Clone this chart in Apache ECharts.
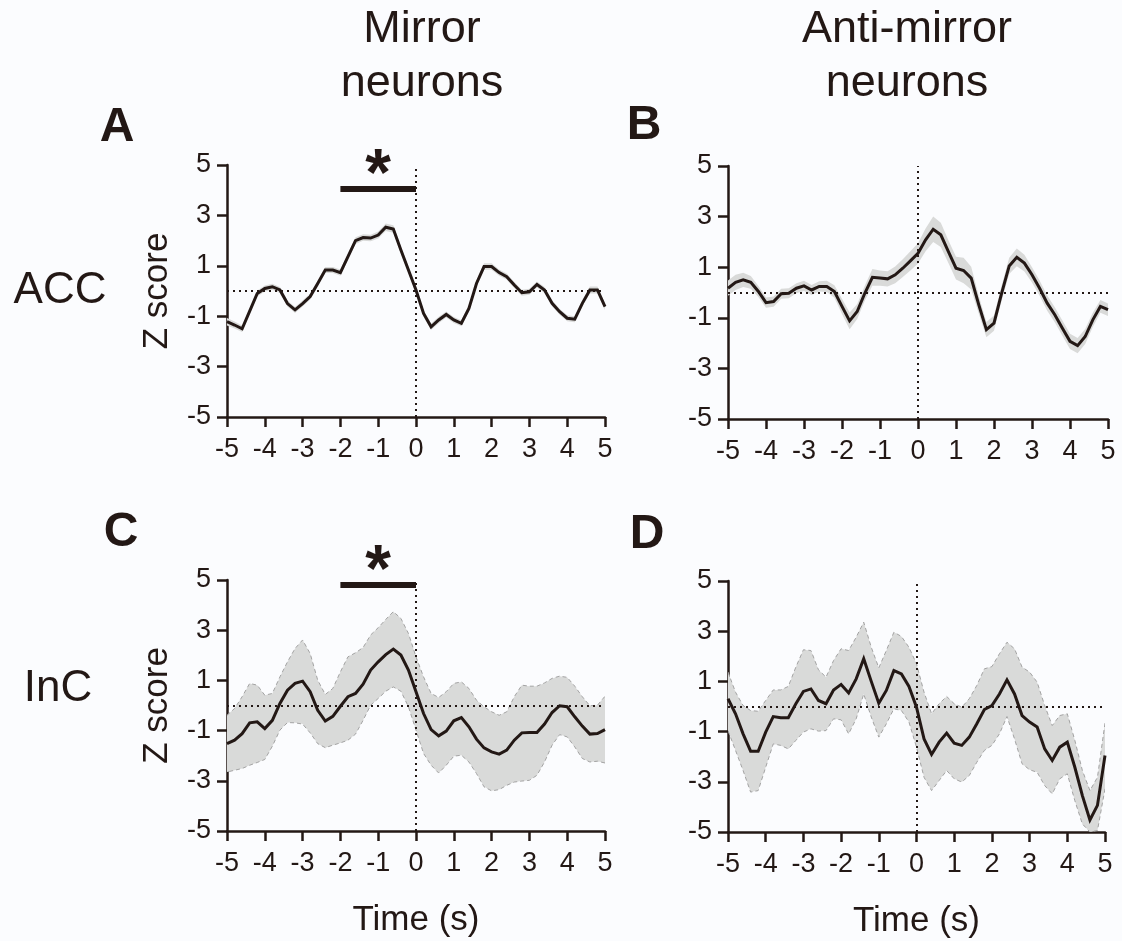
<!DOCTYPE html>
<html><head><meta charset="utf-8">
<script src="https://cdn.jsdelivr.net/npm/echarts@6/dist/echarts.min.js"></script>
<style>html,body{margin:0;padding:0;background:#fbfcfe}#c{width:1122px;height:941px}</style>
</head><body><div id="c"></div>
<script>
// ---- data ----
const time = [-5,-4.8,-4.6,-4.4,-4.2,-4,-3.8,-3.6,-3.4,-3.2,-3,-2.8,-2.6,-2.4,-2.2,-2,-1.8,-1.6,-1.4,-1.2,-1,-0.8,-0.6,-0.4,-0.2,0,0.2,0.4,0.6,0.8,1,1.2,1.4,1.6,1.8,2,2.2,2.4,2.6,2.8,3,3.2,3.4,3.6,3.8,4,4.2,4.4,4.6,4.8,5];
const xTicks = [-5,-4,-3,-2,-1,0,1,2,3,4,5];
const yTicks = [-5,-3,-1,1,3,5];

const meanA = [-1.22,-1.35,-1.5,-0.8,-0.1,0.1,0.17,0.04,-0.5,-0.75,-0.5,-0.22,0.3,0.83,0.83,0.73,1.36,2.0,2.12,2.1,2.22,2.53,2.46,1.63,0.83,0.04,-0.89,-1.42,-1.15,-0.93,-1.15,-1.28,-0.69,0.3,0.97,0.97,0.73,0.57,0.24,-0.07,-0.03,0.26,0.04,-0.49,-0.82,-1.08,-1.12,-0.49,0.04,0.04,-0.62];
const semA = [0.15,0.14,0.13,0.12,0.12,0.12,0.12,0.12,0.12,0.12,0.12,0.12,0.12,0.12,0.12,0.12,0.13,0.13,0.13,0.13,0.14,0.15,0.15,0.14,0.13,0.13,0.13,0.13,0.13,0.12,0.12,0.12,0.12,0.12,0.13,0.13,0.12,0.12,0.12,0.12,0.12,0.12,0.12,0.12,0.12,0.12,0.12,0.13,0.14,0.14,0.13];

const meanB = [0.17,0.4,0.5,0.4,0.04,-0.4,-0.36,-0.05,-0.03,0.17,0.26,0.1,0.24,0.24,0.04,-0.55,-1.12,-0.75,-0.03,0.6,0.57,0.54,0.7,0.96,1.25,1.55,2.08,2.5,2.28,1.62,0.96,0.87,0.57,-0.49,-1.47,-1.21,-0.03,1.05,1.39,1.16,0.7,0.17,-0.42,-0.88,-1.41,-1.93,-2.1,-1.74,-1.08,-0.55,-0.68];
const semB = [0.3,0.3,0.28,0.25,0.22,0.2,0.2,0.2,0.2,0.2,0.2,0.2,0.2,0.22,0.25,0.3,0.33,0.3,0.3,0.33,0.3,0.3,0.33,0.35,0.38,0.4,0.45,0.5,0.48,0.45,0.45,0.5,0.45,0.35,0.3,0.3,0.3,0.32,0.35,0.33,0.3,0.3,0.3,0.3,0.3,0.3,0.3,0.3,0.28,0.25,0.25];

const meanC = [-1.52,-1.38,-1.12,-0.69,-0.65,-0.92,-0.59,0.08,0.61,0.88,0.97,0.55,-0.19,-0.62,-0.43,-0.03,0.35,0.48,0.85,1.41,1.74,2.03,2.25,2.01,1.41,0.55,-0.32,-0.96,-1.21,-1.02,-0.61,-0.48,-0.85,-1.34,-1.69,-1.85,-1.94,-1.78,-1.38,-1.09,-1.08,-1.08,-0.74,-0.28,-0.01,-0.05,-0.45,-0.82,-1.14,-1.12,-0.96];
const upperC = [-0.39,-0.12,0.35,0.88,0.81,0.41,0.48,1.14,1.74,2.27,2.61,2.07,1.01,0.44,0.68,1.34,1.94,2.10,2.31,2.81,3.10,3.43,3.74,3.47,2.87,1.94,1.14,0.48,0.32,0.55,0.88,0.94,0.68,0.21,-0.05,-0.25,-0.39,-0.25,0.35,0.81,0.77,0.77,0.90,1.08,1.17,1.12,0.77,0.35,-0.01,0.01,0.37];
const lowerC = [-2.65,-2.58,-2.51,-2.38,-2.27,-2.15,-1.62,-0.98,-0.68,-0.69,-0.74,-1.09,-1.52,-1.68,-1.58,-1.49,-1.38,-1.14,-0.59,0.01,0.28,0.57,0.74,0.57,-0.05,-0.98,-1.91,-2.38,-2.69,-2.38,-2.02,-1.98,-2.25,-2.71,-3.24,-3.40,-3.35,-3.18,-3.05,-3.01,-2.98,-2.78,-2.25,-1.58,-1.16,-1.25,-1.65,-2.11,-2.25,-2.22,-2.29];

const meanD = [0.31,-0.29,-1.09,-1.78,-1.78,-1.02,-0.40,-0.45,-0.45,0.11,0.60,0.70,0.24,0.11,0.66,0.88,0.54,1.10,1.90,1.00,0.13,0.64,1.43,1.30,0.80,-0.03,-1.29,-1.91,-1.42,-1.06,-1.46,-1.55,-1.22,-0.69,-0.12,0.04,0.50,1.06,0.50,-0.36,-0.62,-0.82,-1.69,-2.15,-1.62,-1.42,-2.42,-3.55,-4.52,-3.94,-1.95];
const upperD = [1.37,0.57,0.04,-0.16,-0.19,0.24,0.66,0.66,0.80,1.57,2.26,2.23,1.46,1.17,1.83,2.30,2.23,2.76,3.36,2.36,1.54,2.23,2.96,2.79,2.36,1.70,0.57,-0.29,0.11,0.40,0.11,-0.03,0.31,0.84,1.50,1.59,2.10,2.56,2.30,1.57,1.37,0.97,0.04,-0.76,-0.36,-0.29,-1.35,-2.55,-3.35,-2.82,-0.66];
const lowerD = [-0.96,-1.75,-2.55,-3.41,-3.35,-2.42,-1.49,-1.55,-1.69,-1.35,-1.02,-0.89,-0.98,-0.96,-0.49,-0.53,-1.09,-0.49,0.50,-0.42,-1.22,-0.69,-0.09,-0.16,-0.62,-1.62,-2.82,-3.35,-2.95,-2.55,-2.88,-3.01,-2.75,-2.22,-1.75,-1.55,-1.09,-0.40,-1.29,-2.28,-2.52,-2.62,-3.15,-3.48,-2.88,-2.68,-3.75,-4.68,-5.0,-4.94,-3.28];

const sigSpan = [-2, 0];
const sigLevelA = 4.05;
const sigLevelC = 4.8;

const columnTitles = [['Mirror','neurons'],['Anti-mirror','neurons']];
const rowLabels = ['ACC','InC'];
const panelLetters = ['A','B','C','D'];
const yName = 'Z score';
const xName = 'Time (s)';

// ---- style ----
const INK = '#231815';
const FONT = "'Liberation Sans', Arial, Helvetica, sans-serif";
const BAND = '#d9dad9';
const EDGE = '#a3a3a3';

const lowerA = meanA.map((m,i)=>m - semA[i]);
const upperA = meanA.map((m,i)=>m + semA[i]);
const lowerB = meanB.map((m,i)=>m - semB[i]);
const upperB = meanB.map((m,i)=>m + semB[i]);

const panels = [
  {grid:{left:227, top:165, width:378, height:252}, mean:meanA, lower:lowerA, upper:upperA, edge:false, yName:yName, xName:''},
  {grid:{left:728, top:166, width:380, height:253}, mean:meanB, lower:lowerB, upper:upperB, edge:false, yName:'', xName:''},
  {grid:{left:227, top:580, width:378, height:251}, mean:meanC, lower:lowerC, upper:upperC, edge:true, yName:yName, xName:xName},
  {grid:{left:728, top:581, width:377, height:251}, mean:meanD, lower:lowerD, upper:upperD, edge:true, yName:'', xName:xName}
];

function pairs(xs, ys){ return xs.map((x,i)=>[x, ys[i]]); }

const grids=[], xAxes=[], yAxes=[], series=[];
panels.forEach((p,i)=>{
  grids.push(Object.assign({containLabel:false}, p.grid));
  xAxes.push({
    gridIndex:i, type:'value', min:xTicks[0], max:xTicks[xTicks.length-1], interval:1,
    axisLine:{show:true, onZero:false, lineStyle:{color:INK, width:2.5}},
    axisTick:{show:true, length:10, lineStyle:{color:INK, width:2.5}},
    axisLabel:{color:INK, fontSize:27, fontFamily:FONT, margin:19},
    splitLine:{show:false},
    name:p.xName, nameLocation:'middle', nameGap:72,
    nameTextStyle:{color:INK, fontSize:35, fontFamily:FONT}
  });
  yAxes.push({
    gridIndex:i, type:'value', min:yTicks[0], max:yTicks[yTicks.length-1], interval:2,
    axisLine:{show:true, onZero:false, lineStyle:{color:INK, width:2.5}},
    axisTick:{show:true, length:10, lineStyle:{color:INK, width:2.5}},
    axisLabel:{color:INK, fontSize:27, fontFamily:FONT, margin:16},
    splitLine:{show:false},
    name:p.yName, nameLocation:'middle', nameGap:52,
    nameTextStyle:{color:INK, fontSize:35, fontFamily:FONT}
  });
  // band: one polygon drawn through the axes' own scales
  const bandData = time.map((t,j)=>[t, p.lower[j], p.upper[j]]);
  series.push({type:'custom', xAxisIndex:i, yAxisIndex:i, data:bandData, silent:true, z:1, clip:true,
    encode:{x:0, y:[1,2]},
    renderItem:function(params, api){
      if (params.dataIndex !== 0) return null;
      const up = bandData.map(d=>api.coord([d[0], d[2]]));
      const lo = bandData.map(d=>api.coord([d[0], d[1]])).reverse();
      const children = [{type:'polygon', shape:{points:up.concat(lo)}, style:{fill:BAND, stroke:'none'}}];
      if (p.edge){
        children.push({type:'polyline', shape:{points:up}, style:{fill:'none', stroke:EDGE, lineWidth:1, lineDash:[4,3]}});
        children.push({type:'polyline', shape:{points:lo}, style:{fill:'none', stroke:EDGE, lineWidth:1, lineDash:[4,3]}});
      }
      return {type:'group', children:children};
    }});
  series.push({type:'line', xAxisIndex:i, yAxisIndex:i, data:pairs(time, p.mean),
    symbol:'none', silent:true, z:3,
    lineStyle:{color:INK, width:3, join:'miter'},
    markLine:{silent:true, symbol:'none', label:{show:false}, animation:false,
      lineStyle:{color:INK, width:2, type:[2,4]},
      data:[{yAxis:0},{xAxis:0}]}});
});

[[0, sigLevelA],[2, sigLevelC]].forEach(([gi, lvl])=>{
  series.push({type:'line', xAxisIndex:gi, yAxisIndex:gi, data:pairs(sigSpan, [lvl, lvl]),
    symbol:'none', silent:true, z:4, clip:false, lineStyle:{color:INK, width:6, cap:'butt'}});
  series.push({type:'scatter', xAxisIndex:gi, yAxisIndex:gi, data:[[(sigSpan[0]+sigSpan[1])/2, lvl]],
    symbolSize:0.01, itemStyle:{color:INK, opacity:1}, silent:true, z:5, clip:false,
    label:{show:true, formatter:'*', position:'top', distance:-21, opacity:1,
      fontSize:66, fontWeight:'bold', color:INK, fontFamily:FONT}});
});

const graphic = [];
function txt(text, x, y, size, bold){
  graphic.push({type:'text', x:x, y:y, silent:true,
    style:{text:text, fill:INK, font:(bold?'bold ':'')+size+'px '+FONT, textAlign:'center', textVerticalAlign:'middle'}});
}
txt(columnTitles[0][0], 422, 30, 45); txt(columnTitles[0][1], 422, 84, 45);
txt(columnTitles[1][0], 907, 30, 45); txt(columnTitles[1][1], 907, 84, 45);
txt(rowLabels[0], 60, 291, 44); txt(rowLabels[1], 58, 689, 44);
txt(panelLetters[0], 117, 128, 48, true); txt(panelLetters[1], 644, 126, 48, true);
txt(panelLetters[2], 121, 533, 48, true); txt(panelLetters[3], 647, 535, 48, true);

const chart = echarts.init(document.getElementById('c'), null, {renderer:'canvas'});
chart.setOption({
  backgroundColor:'#fbfcfe', animation:false,
  grid:grids, xAxis:xAxes, yAxis:yAxes, series:series, graphic:graphic
});
</script></body></html>
